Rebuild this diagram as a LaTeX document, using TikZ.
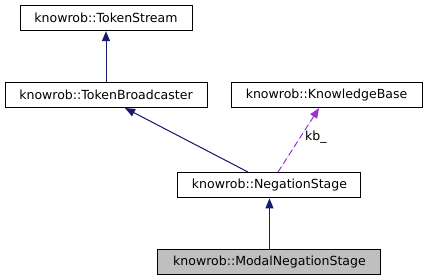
\documentclass[tikz,border=0pt]{standalone}
\usepackage{fontspec}
\setmainfont{DejaVu Sans}
\usepackage{tikz}
\usetikzlibrary{arrows.meta, positioning, calc}
\usepackage{xcolor}
\definecolor{edgeblue}{RGB}{25,25,112}
\definecolor{usepurple}{RGB}{154,50,205}
\definecolor{selgray}{RGB}{191,191,191}

\begin{document}
\begin{tikzpicture}[
    node distance=37.9pt and 17.25pt,
    cls/.style={rectangle, draw=black, line width=0.75pt, fill=white,
                minimum height=19pt, inner xsep=2pt, align=center,
                font=\fontsize{9.4}{11}\selectfont},
    inh/.style={-{Triangle[length=7.5pt, width=6pt]}, line width=0.75pt, draw=edgeblue, fill=edgeblue},
    usage/.style={-{Triangle[length=7.5pt, width=6pt]}, line width=0.75pt, dashed,
                  dash pattern=on 4.5pt off 3pt, draw=usepurple, fill=usepurple},
]
    \useasboundingbox (0,0) rectangle (320.25pt,-209.25pt);

    \node[cls, minimum width=129pt] (stream) at (79.5pt,-13.5pt) {knowrob::TokenStream};
    \node[cls, minimum width=151.5pt, below=of stream] (bcast) {knowrob::TokenBroadcaster};
    \node[cls, minimum width=143.25pt, right=of bcast] (kbase) {knowrob::KnowledgeBase};
    \node[cls, minimum width=137.25pt, below=48pt of bcast, xshift=122.6pt] (neg) {knowrob::NegationStage};
    \node[cls, minimum width=167.25pt, below=of neg, fill=selgray] (modal) {knowrob::ModalNegationStage};

    \draw[inh] (bcast) -- (stream);
    \draw[inh] ($(neg.north)+(-16.1pt,0)$) -- ($(bcast.south)+(14.25pt,0)$);
    \draw[usage] ($(neg.north)+(6.4pt,0)$) -- node[right, pos=0.55, inner sep=3pt, font=\fontsize{9.4}{11}\selectfont] (kblabel) {kb\_} ($(kbase.south)+(-5.6pt,0)$);
    \draw[inh] (modal) -- (neg);
\end{tikzpicture}
\end{document}
